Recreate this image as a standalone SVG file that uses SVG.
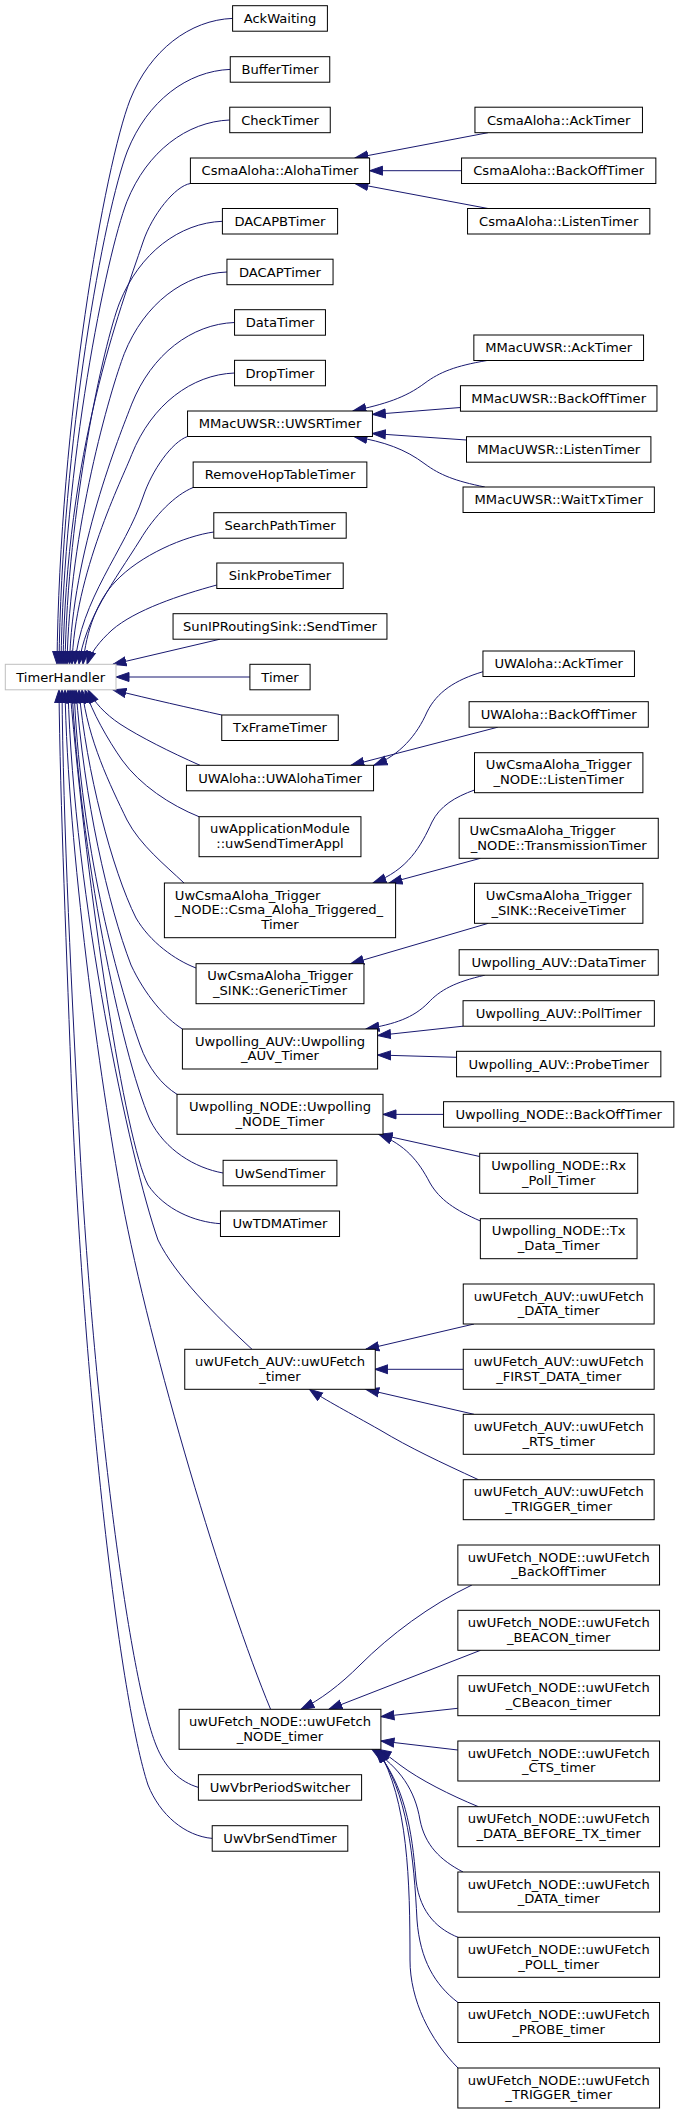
<svg xmlns="http://www.w3.org/2000/svg" width="677" height="2114" viewBox="0 0 677 2114">
<style>
.n rect{fill:#fff;stroke:#000;stroke-width:1}
.n.g rect{stroke:#bfbfbf}
text{font-family:"DejaVu Sans",sans-serif;font-size:13.1px;text-anchor:middle;fill:#000}
text.l{text-anchor:start}
#edges path{fill:none;stroke:#191970;stroke-width:1;marker-end:url(#arr)}
</style>
<defs>
<marker id="arr" markerUnits="userSpaceOnUse" markerWidth="15" markerHeight="11" viewBox="0 0 15 11" refX="13.5" refY="5.5" orient="auto">
<path d="M0.5,1 L13.5,5.5 L0.5,10 z" fill="#191970" stroke="#191970" stroke-width="1"/>
</marker>
</defs>
<rect x="0" y="0" width="677" height="2114" fill="#fff"/>
<g id="edges">
<path d="M232.6,18.4 C190,20 150,50 130,100 C105,165 59.5,419 57,664.3"/>
<path d="M230.2,69.4 C187.4,71 147.4,101 127.4,151 C104.6,210 61.5,441.5 59,664.3"/>
<path d="M229.7,120 C186.9,121.6 146.9,151.6 126.9,201.6 C106.4,255 63.5,463.5 61,664.3"/>
<path d="M190.4,183.5 C175,186 152,215 143,242 C120,310 66,450 63,664.3"/>
<path d="M222.4,221.3 C179.5,222.9 139.5,252.9 119.5,302.9 C103.5,344.5 67.5,507.5 65,664.3"/>
<path d="M227,272 C184.3,273.6 144.3,303.6 124.3,353.6 C110.5,389.4 69.5,529.5 67,664.3"/>
<path d="M234.5,322.5 C191.7,324.1 151.7,354.1 131.7,404.1 C120.2,434.1 72,551.4 69.5,664.3"/>
<path d="M234.5,373 C191.7,374.6 151.7,404.6 131.7,454.6 C122.4,478.8 74.5,573.3 72,664.3"/>
<path d="M187.5,436.5 C172,442 152,470 143,497 C125,550 80,600 75,664.3"/>
<path d="M193.1,487.5 C175,495 155,515 140,540 C115,580 84,620 79,664.3"/>
<path d="M213.8,532 C185,536 140,555 115,582 C98,600 86,630 83,664.3"/>
<path d="M216.8,585 C180,595 135,610 112,630 C100,641 91,652 87,664.3"/>
<path d="M220,639.2 L113,664.3"/>
<path d="M249.9,677 L116,677"/>
<path d="M221.7,715 C190,708 150,699 113,689.8"/>
<path d="M200,765.3 C170,752 140,737 120,724 C105,714 94,702 88,689.8"/>
<path d="M199,816.7 C170,805 140,785 122,760 C108,740 92,712 85,689.8"/>
<path d="M184,883 C165,865 140,845 127,820 C110,785 88,740 82,689.8"/>
<path d="M196,968 C175,960 150,942 136,918 C112,870 86,770 79,689.8"/>
<path d="M182.4,1029 C165,1018 145,995 131,965 C108,905 84,800 76,689.8"/>
<path d="M177,1094.3 C162,1085 148,1068 140,1045 C110,960 80,830 74,689.8"/>
<path d="M223.1,1173 C195,1168 165,1150 150,1120 C120,1050 80,850 72,689.8"/>
<path d="M220.4,1223.7 C195,1222 165,1210 148,1185 C125,1140 88,900 70,689.8"/>
<path d="M252,1349.3 C215,1315 175,1275 158,1240 C130,1160 74,900 68,689.8"/>
<path d="M270.6,1709.3 C225,1600 150,1350 122,1200 C100,1080 68,850 65,689.8"/>
<path d="M198.4,1787.4 C180,1782 165,1768 156,1745 C130,1680 95,1420 80,1150 C72,1000 63,820 62,689.8"/>
<path d="M212.2,1838.4 C185,1836 160,1815 148,1785 C120,1700 85,1400 72,1100 C67,960 60,800 59,689.8"/>
<path d="M488,132.7 L355,158"/>
<path d="M461.5,170.7 L369.6,170.7"/>
<path d="M488,208.5 L355,183.5"/>
<path d="M487,360.5 C455,366 440,372 425,383 C405,398 385,404 353,411"/>
<path d="M460.4,407.5 L372.4,414.5"/>
<path d="M466.5,440 L372.4,433.5"/>
<path d="M484.8,487 C455,481 440,475 425,464 C405,449 385,442 354,436.5"/>
<path d="M483,671.7 C455,680 437,692 427,712 C417,735 400,755 374,765.3"/>
<path d="M497.8,727.2 L351,765.3"/>
<path d="M474.5,790 C455,797 440,806 432,822 C421,846 408,870 373,883"/>
<path d="M480.5,858.3 L389,883"/>
<path d="M488.3,923.3 L350.6,963.7"/>
<path d="M484.8,975.2 C455,982 440,990 428,1003 C413,1018 395,1024 366,1029"/>
<path d="M463,1026.2 L377.6,1035.5"/>
<path d="M456.5,1057.3 L377.6,1055"/>
<path d="M443.5,1114.4 L383,1114.4"/>
<path d="M479.7,1156.5 L379,1134.3"/>
<path d="M480.4,1221 C455,1210 440,1200 430,1183 C418,1160 405,1145 379,1134.3"/>
<path d="M474,1324 L365.8,1349.3"/>
<path d="M463.2,1369.3 L374.9,1369.3"/>
<path d="M474,1414.3 L365.8,1389.3"/>
<path d="M478.4,1479.7 C440,1462 410,1448 380,1430 C350,1413 325,1400 309.5,1389.3"/>
<path d="M471.9,1585 C430,1605 390,1635 360,1665 C340,1685 320,1700 301,1709.3"/>
<path d="M480.5,1650.3 L329,1709.3"/>
<path d="M457.8,1708.3 L381,1716.7"/>
<path d="M457.8,1750 L381,1741"/>
<path d="M478.4,1806.7 C450,1795 420,1780 400,1765 C392,1759 386,1754 378,1749.3"/>
<path d="M463,1872 C440,1860 425,1845 420,1820 C415,1790 400,1768 372,1749.3"/>
<path d="M458,1937.3 C440,1930 420,1915 416,1880 C412,1830 405,1785 375,1749.3"/>
<path d="M458,2002.5 C435,1985 420,1960 417,1920 C414,1860 408,1790 376,1749.3"/>
<path d="M458,2068 C430,2040 410,2000 410,1960 C410,1880 408,1800 378,1749.3"/>
</g>
<g id="TimerHandler" class="n g"><rect x="5.3" y="664.3" width="110.7" height="25.5"/><text x="60.65" y="681.5">TimerHandler</text></g>
<g id="AckWaiting" class="n"><rect x="232.6" y="5.7" width="94.8" height="25.5"/><text x="280" y="23">AckWaiting</text></g>
<g id="BufferTimer" class="n"><rect x="230.25" y="56.7" width="99.5" height="25.5"/><text x="280" y="73.9">BufferTimer</text></g>
<g id="CheckTimer" class="n"><rect x="229.75" y="107.2" width="100.5" height="25.5"/><text x="280" y="124.5">CheckTimer</text></g>
<g id="CsmaAloha_AlohaTimer" class="n"><rect x="190.4" y="158" width="179.2" height="25.5"/><text x="280" y="175.2">CsmaAloha::AlohaTimer</text></g>
<g id="DACAPBTimer" class="n"><rect x="222.4" y="208.5" width="115.2" height="25.5"/><text x="280" y="225.8">DACAPBTimer</text></g>
<g id="DACAPTimer" class="n"><rect x="226.95" y="259.2" width="106.1" height="25.5"/><text x="280" y="276.5">DACAPTimer</text></g>
<g id="DataTimer" class="n"><rect x="234.55" y="309.7" width="90.9" height="25.5"/><text x="280" y="327">DataTimer</text></g>
<g id="DropTimer" class="n"><rect x="234.55" y="360.3" width="90.9" height="25.5"/><text x="280" y="377.5">DropTimer</text></g>
<g id="MMacUWSR_UWSRTimer" class="n"><rect x="187.55" y="411" width="184.9" height="25.5"/><text x="280" y="428.2">MMacUWSR::UWSRTimer</text></g>
<g id="RemoveHopTableTimer" class="n"><rect x="193.15" y="462" width="173.7" height="25.5"/><text x="280" y="479.2">RemoveHopTableTimer</text></g>
<g id="SearchPathTimer" class="n"><rect x="213.8" y="512.7" width="132.4" height="25.5"/><text x="280" y="529.9">SearchPathTimer</text></g>
<g id="SinkProbeTimer" class="n"><rect x="216.8" y="563" width="126.4" height="25.5"/><text x="280" y="580.2">SinkProbeTimer</text></g>
<g id="SunIPRoutingSink_SendTimer" class="n"><rect x="173.05" y="613.7" width="213.9" height="25.5"/><text x="280" y="630.9">SunIPRoutingSink::SendTimer</text></g>
<g id="Timer" class="n"><rect x="249.9" y="664.3" width="60.2" height="25.5"/><text x="280" y="681.5">Timer</text></g>
<g id="TxFrameTimer" class="n"><rect x="221.75" y="715" width="116.5" height="25.5"/><text x="280" y="732.2">TxFrameTimer</text></g>
<g id="UWAloha_UWAlohaTimer" class="n"><rect x="186.45" y="765.3" width="187.1" height="25.5"/><text x="280" y="782.5">UWAloha::UWAlohaTimer</text></g>
<g id="uwApplicationModule_uwSendTimerAppl" class="n"><rect x="199.05" y="816.7" width="161.9" height="40"/><text x="280" y="833.2">uwApplicationModule</text><text x="280" y="848">::uwSendTimerAppl</text></g>
<g id="UwCsmaAloha_Trigger_NODE_Csma_Aloha_Triggered_Timer" class="n"><rect x="164.4" y="883" width="231.2" height="54.7"/><text class="l" x="174.8" y="899.5">UwCsmaAloha_Trigger</text><text class="l" x="174.8" y="914.3">_NODE::Csma_Aloha_Triggered_</text><text x="280" y="929.1">Timer</text></g>
<g id="UwCsmaAloha_Trigger_SINK_GenericTimer" class="n"><rect x="196.05" y="963.7" width="167.9" height="40"/><text x="280" y="980.2">UwCsmaAloha_Trigger</text><text x="280" y="995">_SINK::GenericTimer</text></g>
<g id="Uwpolling_AUV_Uwpolling_AUV_Timer" class="n"><rect x="182.4" y="1029" width="195.2" height="40"/><text x="280" y="1045.5">Uwpolling_AUV::Uwpolling</text><text x="280" y="1060.3">_AUV_Timer</text></g>
<g id="Uwpolling_NODE_Uwpolling_NODE_Timer" class="n"><rect x="177" y="1094.3" width="206" height="40"/><text x="280" y="1110.8">Uwpolling_NODE::Uwpolling</text><text x="280" y="1125.6">_NODE_Timer</text></g>
<g id="UwSendTimer" class="n"><rect x="223.1" y="1160.3" width="113.8" height="25.5"/><text x="280" y="1177.5">UwSendTimer</text></g>
<g id="UwTDMATimer" class="n"><rect x="220.45" y="1211" width="119.1" height="25.5"/><text x="280" y="1228.2">UwTDMATimer</text></g>
<g id="uwUFetch_AUV_uwUFetch_timer" class="n"><rect x="184.75" y="1349.3" width="190.5" height="40"/><text x="280" y="1365.8">uwUFetch_AUV::uwUFetch</text><text x="280" y="1380.6">_timer</text></g>
<g id="uwUFetch_NODE_uwUFetch_NODE_timer" class="n"><rect x="179.1" y="1709.3" width="201.8" height="40"/><text x="280" y="1725.8">uwUFetch_NODE::uwUFetch</text><text x="280" y="1740.6">_NODE_timer</text></g>
<g id="UwVbrPeriodSwitcher" class="n"><rect x="198.4" y="1774.7" width="163.2" height="25.5"/><text x="280" y="1791.9">UwVbrPeriodSwitcher</text></g>
<g id="UwVbrSendTimer" class="n"><rect x="212.2" y="1825.7" width="135.6" height="25.5"/><text x="280" y="1842.9">UwVbrSendTimer</text></g>
<g id="CsmaAloha_AckTimer" class="n"><rect x="474.95" y="107.2" width="167.5" height="25.5"/><text x="558.7" y="124.5">CsmaAloha::AckTimer</text></g>
<g id="CsmaAloha_BackOffTimer" class="n"><rect x="461.55" y="158" width="194.3" height="25.5"/><text x="558.7" y="175.2">CsmaAloha::BackOffTimer</text></g>
<g id="CsmaAloha_ListenTimer" class="n"><rect x="467.55" y="208.5" width="182.3" height="25.5"/><text x="558.7" y="225.8">CsmaAloha::ListenTimer</text></g>
<g id="MMacUWSR_AckTimer" class="n"><rect x="473.85" y="335" width="169.7" height="25.5"/><text x="558.7" y="352.2">MMacUWSR::AckTimer</text></g>
<g id="MMacUWSR_BackOffTimer" class="n"><rect x="460.45" y="385.7" width="196.5" height="25.5"/><text x="558.7" y="402.9">MMacUWSR::BackOffTimer</text></g>
<g id="MMacUWSR_ListenTimer" class="n"><rect x="466.5" y="436.7" width="184.4" height="25.5"/><text x="558.7" y="453.9">MMacUWSR::ListenTimer</text></g>
<g id="MMacUWSR_WaitTxTimer" class="n"><rect x="463.05" y="487" width="191.3" height="25.5"/><text x="558.7" y="504.2">MMacUWSR::WaitTxTimer</text></g>
<g id="UWAloha_AckTimer" class="n"><rect x="482.95" y="651" width="151.5" height="25.5"/><text x="558.7" y="668.2">UWAloha::AckTimer</text></g>
<g id="UWAloha_BackOffTimer" class="n"><rect x="469.1" y="701.7" width="179.2" height="25.5"/><text x="558.7" y="718.9">UWAloha::BackOffTimer</text></g>
<g id="UwCsmaAloha_Trigger_NODE_ListenTimer" class="n"><rect x="474.5" y="752.7" width="168.4" height="40"/><text x="558.7" y="769.2">UwCsmaAloha_Trigger</text><text x="558.7" y="784">_NODE::ListenTimer</text></g>
<g id="UwCsmaAloha_Trigger_NODE_TransmissionTimer" class="n"><rect x="459.15" y="818.3" width="199.1" height="40"/><text class="l" x="469.6" y="834.8">UwCsmaAloha_Trigger</text><text x="558.7" y="849.6">_NODE::TransmissionTimer</text></g>
<g id="UwCsmaAloha_Trigger_SINK_ReceiveTimer" class="n"><rect x="474.5" y="883.3" width="168.4" height="40"/><text x="558.7" y="899.8">UwCsmaAloha_Trigger</text><text x="558.7" y="914.6">_SINK::ReceiveTimer</text></g>
<g id="Uwpolling_AUV_DataTimer" class="n"><rect x="459.15" y="949.7" width="199.1" height="25.5"/><text x="558.7" y="966.9">Uwpolling_AUV::DataTimer</text></g>
<g id="Uwpolling_AUV_PollTimer" class="n"><rect x="463.05" y="1000.7" width="191.3" height="25.5"/><text x="558.7" y="1017.9">Uwpolling_AUV::PollTimer</text></g>
<g id="Uwpolling_AUV_ProbeTimer" class="n"><rect x="456.55" y="1051.3" width="204.3" height="25.5"/><text x="558.7" y="1068.5">Uwpolling_AUV::ProbeTimer</text></g>
<g id="Uwpolling_NODE_BackOffTimer" class="n"><rect x="443.55" y="1101.7" width="230.3" height="25.5"/><text x="558.7" y="1118.9">Uwpolling_NODE::BackOffTimer</text></g>
<g id="Uwpolling_NODE_Rx_Poll_Timer" class="n"><rect x="479.7" y="1153.3" width="158" height="40"/><text x="558.7" y="1169.8">Uwpolling_NODE::Rx</text><text x="558.7" y="1184.6">_Poll_Timer</text></g>
<g id="Uwpolling_NODE_Tx_Data_Timer" class="n"><rect x="480.35" y="1218.7" width="156.7" height="40"/><text x="558.7" y="1235.2">Uwpolling_NODE::Tx</text><text x="558.7" y="1250">_Data_Timer</text></g>
<g id="uwUFetch_AUV_uwUFetch_DATA_timer" class="n"><rect x="463.25" y="1284" width="190.9" height="40"/><text x="558.7" y="1300.5">uwUFetch_AUV::uwUFetch</text><text x="558.7" y="1315.3">_DATA_timer</text></g>
<g id="uwUFetch_AUV_uwUFetch_FIRST_DATA_timer" class="n"><rect x="463.25" y="1349.3" width="190.9" height="40"/><text x="558.7" y="1365.8">uwUFetch_AUV::uwUFetch</text><text x="558.7" y="1380.6">_FIRST_DATA_timer</text></g>
<g id="uwUFetch_AUV_uwUFetch_RTS_timer" class="n"><rect x="463.25" y="1414.3" width="190.9" height="40"/><text x="558.7" y="1430.8">uwUFetch_AUV::uwUFetch</text><text x="558.7" y="1445.6">_RTS_timer</text></g>
<g id="uwUFetch_AUV_uwUFetch_TRIGGER_timer" class="n"><rect x="463.25" y="1479.7" width="190.9" height="40"/><text x="558.7" y="1496.2">uwUFetch_AUV::uwUFetch</text><text x="558.7" y="1511">_TRIGGER_timer</text></g>
<g id="uwUFetch_NODE_uwUFetch_BackOffTimer" class="n"><rect x="457.85" y="1545" width="201.7" height="40"/><text x="558.7" y="1561.5">uwUFetch_NODE::uwUFetch</text><text x="558.7" y="1576.3">_BackOffTimer</text></g>
<g id="uwUFetch_NODE_uwUFetch_BEACON_timer" class="n"><rect x="457.85" y="1610.3" width="201.7" height="40"/><text x="558.7" y="1626.8">uwUFetch_NODE::uwUFetch</text><text x="558.7" y="1641.6">_BEACON_timer</text></g>
<g id="uwUFetch_NODE_uwUFetch_CBeacon_timer" class="n"><rect x="457.85" y="1675.7" width="201.7" height="40"/><text x="558.7" y="1692.2">uwUFetch_NODE::uwUFetch</text><text x="558.7" y="1707">_CBeacon_timer</text></g>
<g id="uwUFetch_NODE_uwUFetch_CTS_timer" class="n"><rect x="457.85" y="1741" width="201.7" height="40"/><text x="558.7" y="1757.5">uwUFetch_NODE::uwUFetch</text><text x="558.7" y="1772.3">_CTS_timer</text></g>
<g id="uwUFetch_NODE_uwUFetch_DATA_BEFORE_TX_timer" class="n"><rect x="457.85" y="1806.7" width="201.7" height="40"/><text x="558.7" y="1823.2">uwUFetch_NODE::uwUFetch</text><text x="558.7" y="1838">_DATA_BEFORE_TX_timer</text></g>
<g id="uwUFetch_NODE_uwUFetch_DATA_timer" class="n"><rect x="457.85" y="1872" width="201.7" height="40"/><text x="558.7" y="1888.5">uwUFetch_NODE::uwUFetch</text><text x="558.7" y="1903.3">_DATA_timer</text></g>
<g id="uwUFetch_NODE_uwUFetch_POLL_timer" class="n"><rect x="457.85" y="1937.3" width="201.7" height="40"/><text x="558.7" y="1953.8">uwUFetch_NODE::uwUFetch</text><text x="558.7" y="1968.6">_POLL_timer</text></g>
<g id="uwUFetch_NODE_uwUFetch_PROBE_timer" class="n"><rect x="457.85" y="2002.5" width="201.7" height="40"/><text x="558.7" y="2019">uwUFetch_NODE::uwUFetch</text><text x="558.7" y="2033.8">_PROBE_timer</text></g>
<g id="uwUFetch_NODE_uwUFetch_TRIGGER_timer" class="n"><rect x="457.85" y="2068" width="201.7" height="40"/><text x="558.7" y="2084.5">uwUFetch_NODE::uwUFetch</text><text x="558.7" y="2099.3">_TRIGGER_timer</text></g>
</svg>
